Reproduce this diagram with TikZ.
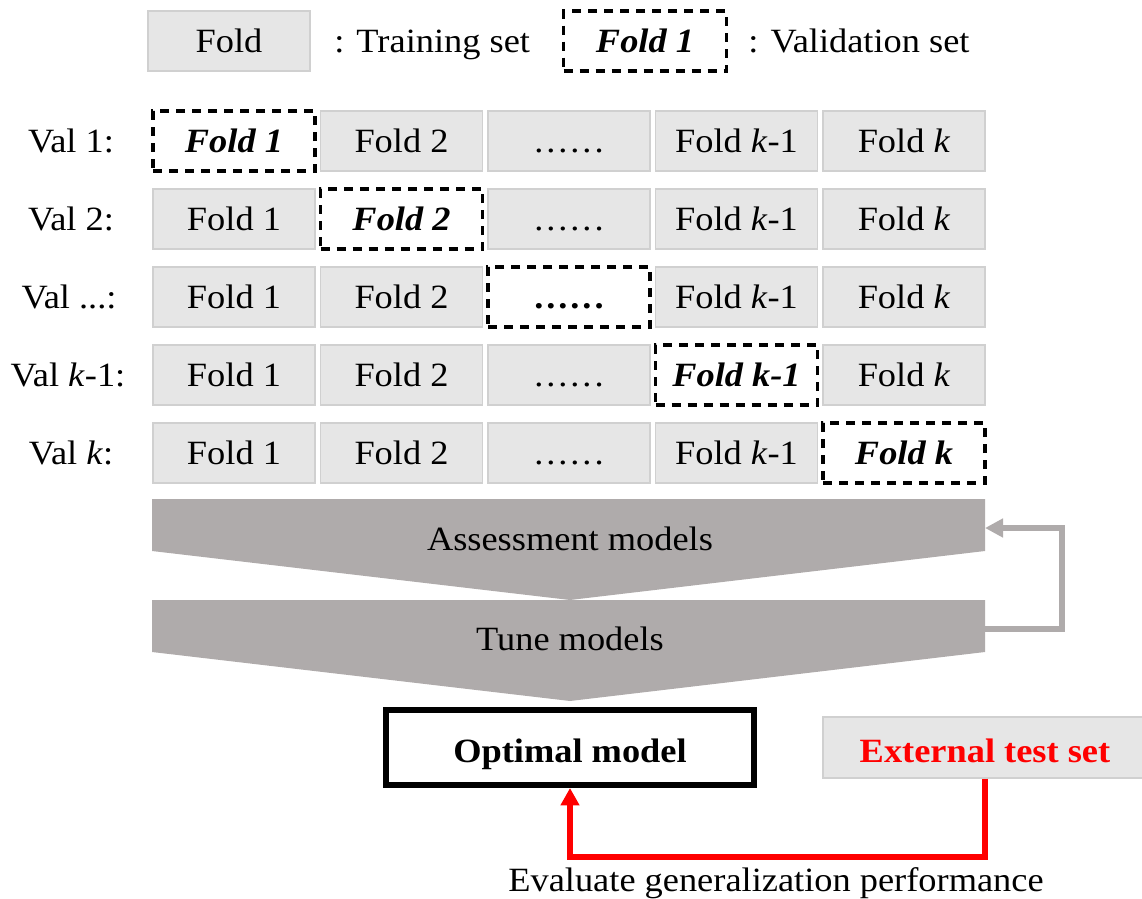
\documentclass[tikz,border=0pt]{standalone}
\usepackage{fontspec}
\setmainfont[FakeStretch=1.07]{Liberation Serif}
\usetikzlibrary{arrows.meta}

% Colours
\definecolor{foldgray}{HTML}{E6E6E6}
\definecolor{foldline}{HTML}{D0D0D0}
\definecolor{chevgray}{HTML}{AFABAB}
\definecolor{testred}{HTML}{FF0000}

\newcommand{\figsize}{\fontsize{25.5pt}{30pt}\selectfont}
\newcommand{\folddots}{\vphantom{Fold}.\kern2.2pt.\kern2.2pt.\kern2.2pt.\kern2.2pt.\kern2.2pt.}

\tikzset{
  txt/.style={inner sep=0pt, font=\figsize},
  fold/.style={draw=foldline, line width=1pt, fill=foldgray, inner sep=0pt,
    minimum width=121.5pt, minimum height=45pt, font=\figsize},
  valfold/.style={draw=black, line width=2.4pt, dash pattern=on 6.75pt off 5.25pt,
    fill=white, inner sep=0pt, minimum width=121.5pt, minimum height=45pt,
    font=\figsize\bfseries\itshape},
  chevron/.style={fill=chevgray, draw=none},
  loopline/.style={draw=chevgray, line width=4.5pt, -{Triangle[length=13.5pt, width=13.5pt]}},
  evalline/.style={draw=testred, line width=4.5pt, -{Triangle[length=13pt, width=13.5pt]}},
}

\begin{document}
\begin{tikzpicture}[x=0.75pt, y=-0.75pt]
    % Page frame (pixel grid of the figure)
    \useasboundingbox (0,0) rectangle (1142,899);

    % 1. Legend
    \node[fold] (legtrain) at (229,41) {Fold};
    \node[txt, anchor=base west] (legtraintxt) at (334,53) {: Training set};
    \node[valfold, minimum width=122pt] (legval) at (645,41) {Fold 1};
    \node[txt, anchor=base west] (legvaltxt) at (748,53) {: Validation set};

    % 2. Row labels
    \node[txt] (val1) at (71,141) {Val 1:};
    \node[txt] (val2) at (71,219) {Val 2:};
    \node[txt] (val3) at (69,297) {Val ...:};
    \node[txt] (val4) at (68,375) {Val \textit{k}-1:};
    \node[txt] (val5) at (71,453) {Val \textit{k}:};

    % 3. Folds, one row per validation round
    \node[valfold] (r1c1) at (234,141)   {Fold 1};
    \node[fold]    (r1c2) at (401.5,141) {Fold 2};
    \node[fold]    (r1c3) at (569,141)   {\folddots};
    \node[fold]    (r1c4) at (736.5,141) {Fold \textit{k}-1};
    \node[fold]    (r1c5) at (904,141)   {Fold \textit{k}};

    \node[fold]    (r2c1) at (234,219)   {Fold 1};
    \node[valfold] (r2c2) at (401.5,219) {Fold 2};
    \node[fold]    (r2c3) at (569,219)   {\folddots};
    \node[fold]    (r2c4) at (736.5,219) {Fold \textit{k}-1};
    \node[fold]    (r2c5) at (904,219)   {Fold \textit{k}};

    \node[fold]    (r3c1) at (234,297)   {Fold 1};
    \node[fold]    (r3c2) at (401.5,297) {Fold 2};
    \node[valfold] (r3c3) at (569,297)   {\upshape\folddots};
    \node[fold]    (r3c4) at (736.5,297) {Fold \textit{k}-1};
    \node[fold]    (r3c5) at (904,297)   {Fold \textit{k}};

    \node[fold]    (r4c1) at (234,375)   {Fold 1};
    \node[fold]    (r4c2) at (401.5,375) {Fold 2};
    \node[fold]    (r4c3) at (569,375)   {\folddots};
    \node[valfold] (r4c4) at (736.5,375) {Fold k-1};
    \node[fold]    (r4c5) at (904,375)   {Fold \textit{k}};

    \node[fold]    (r5c1) at (234,453)   {Fold 1};
    \node[fold]    (r5c2) at (401.5,453) {Fold 2};
    \node[fold]    (r5c3) at (569,453)   {\folddots};
    \node[fold]    (r5c4) at (736.5,453) {Fold \textit{k}-1};
    \node[valfold] (r5c5) at (904,453)   {Fold k};

    % 4. Chevrons
    \path[chevron] (152,499) -- (985,499) -- (985,551) -- (570,600) -- (152,551) -- cycle;
    \path[chevron] (152,600) -- (985,600) -- (985,652) -- (570,701) -- (152,652) -- cycle;
    \node[txt] (assess) at (570,539) {Assessment models};
    \node[txt] (tune) at (570,639) {Tune models};

    % 5. Feedback loop
    \coordinate (tuneR) at (985,629);
    \coordinate (assessR) at (985,528);
    \draw[loopline] (tuneR) -- ++(77,0) |- (assessR);

    % 6. Optimal model and external test set
    \node[draw=black, line width=4.5pt, fill=white, minimum width=276pt,
      minimum height=56.25pt, inner sep=0pt, text height=21.75pt, text depth=0pt,
      font=\figsize\bfseries] (opt) at (570,747.5) {Optimal model};
    \node[fold, minimum width=243pt, minimum height=45.75pt, text height=21.75pt,
      text depth=0pt, font=\figsize\bfseries, text=testred] (ext) at (985,747.5) {External test set};

    % 7. Evaluation arrow
    \coordinate (evalC) at (570,857);
    \draw[evalline] (ext.south) |- (evalC) -- (opt.south);
    \node[txt, anchor=base] (evaltxt) at (776,891) {Evaluate generalization performance};

\end{tikzpicture}
\end{document}
